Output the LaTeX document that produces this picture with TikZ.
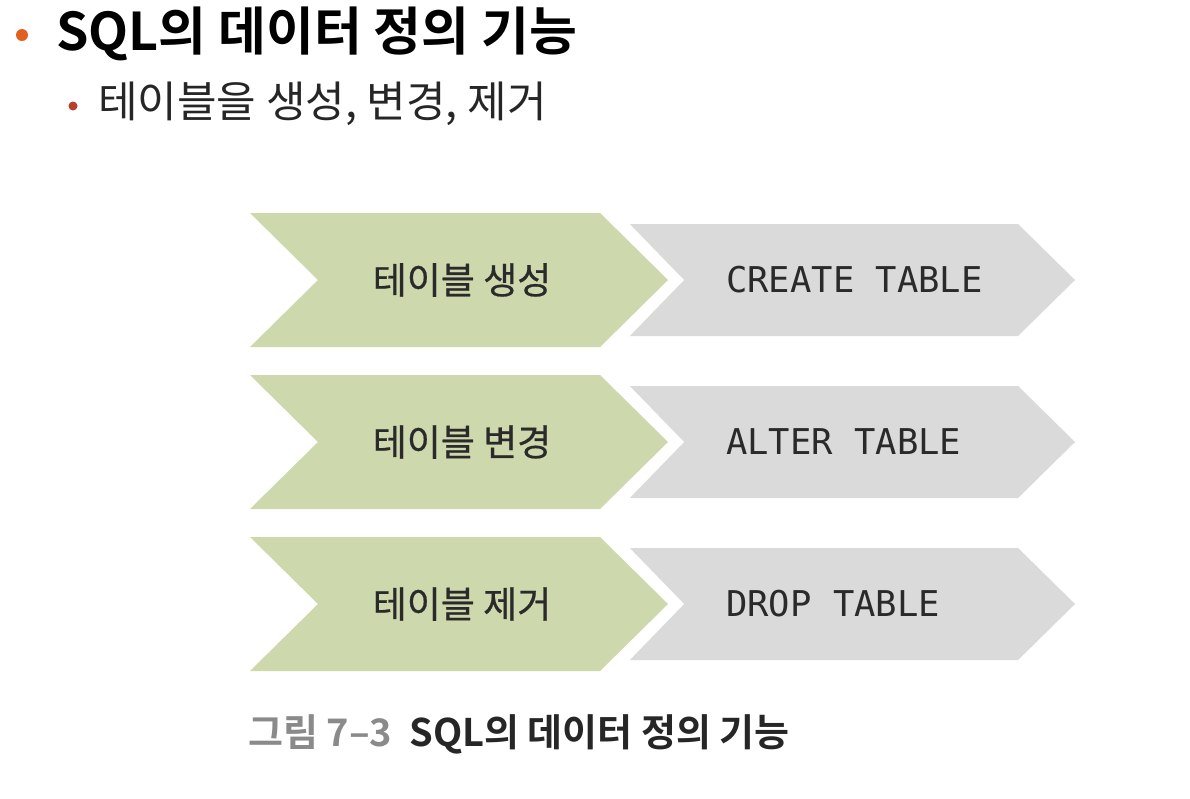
\documentclass[tikz,border=0pt]{standalone}
\usepackage{fontspec}
\setmainfont{Noto Sans CJK KR}
\newfontfamily\krfont{Noto Sans CJK KR}
\newfontfamily\krmid[FakeBold=0.6]{Noto Sans CJK KR}
\newfontfamily\krbold{Noto Sans CJK KR Bold}
\setmonofont{DejaVu Sans Mono}
\definecolor{chgreen}{HTML}{CDD8AD}
\definecolor{chgray}{HTML}{DADADA}
\definecolor{txtdark}{HTML}{2A2A2A}
\definecolor{bulleta}{HTML}{E0601F}
\definecolor{bulletb}{HTML}{B8402A}
\definecolor{capgray}{HTML}{8A8A8A}
\begin{document}
\begin{tikzpicture}[x=1pt,y=-1pt,
  krlabel/.style={font=\krmid\fontsize{37}{40}\selectfont, text=txtdark, inner sep=0pt},
  sqllabel/.style={font=\ttfamily\fontsize{35.5}{38}\selectfont, text=txtdark, inner sep=0pt}]
\useasboundingbox (0,0) rectangle (1190,798);
\fill[white] (0,0) rectangle (1190,798);
% title
\fill[bulleta] (22,35) circle (6);
\node[anchor=west, inner sep=0pt, font=\krbold\fontsize{52}{56}\selectfont, text=black] (title) at (56,34) {SQL의 데이터 정의 기능};
\fill[bulletb] (73,106) circle (4.5);
\node[anchor=west, inner sep=0pt, font=\krfont\fontsize{43}{46}\selectfont, text=black!85] (sub) at (98,104) {테이블을 생성, 변경, 제거};
% chevrons
\foreach \yc/\nm/\kr/\sq in {280/r1/테이블 생성/CREATE TABLE, 442/r2/테이블 변경/ALTER TABLE, 604/r3/테이블 제거/DROP TABLE}{
  \fill[chgray] (625,\yc-56) -- (1018,\yc-56) -- (1075,\yc) -- (1018,\yc+56) -- (625,\yc+56) -- (682,\yc) -- cycle;
  \fill[white] (606,\yc-70) -- (616,\yc-70) -- (684,\yc) -- (616,\yc+70) -- (606,\yc+70) -- (674,\yc) -- cycle;
  \fill[chgreen] (250,\yc-67) -- (600,\yc-67) -- (668,\yc) -- (600,\yc+67) -- (250,\yc+67) -- (318,\yc) -- cycle;
  \node[krlabel] (\nm k) at (462,\yc) {\kr};
  \node[sqllabel, anchor=west] (\nm s) at (726,\yc) {\sq};
}
% caption
\node[anchor=west, inner sep=0pt, font=\krbold\fontsize{38}{42}\selectfont] (cap) at (248,734) {\textcolor{capgray}{그림 7–3}\hspace{0.45em}\textcolor{black!85}{SQL의 데이터 정의 기능}};
\end{tikzpicture}
\end{document}
